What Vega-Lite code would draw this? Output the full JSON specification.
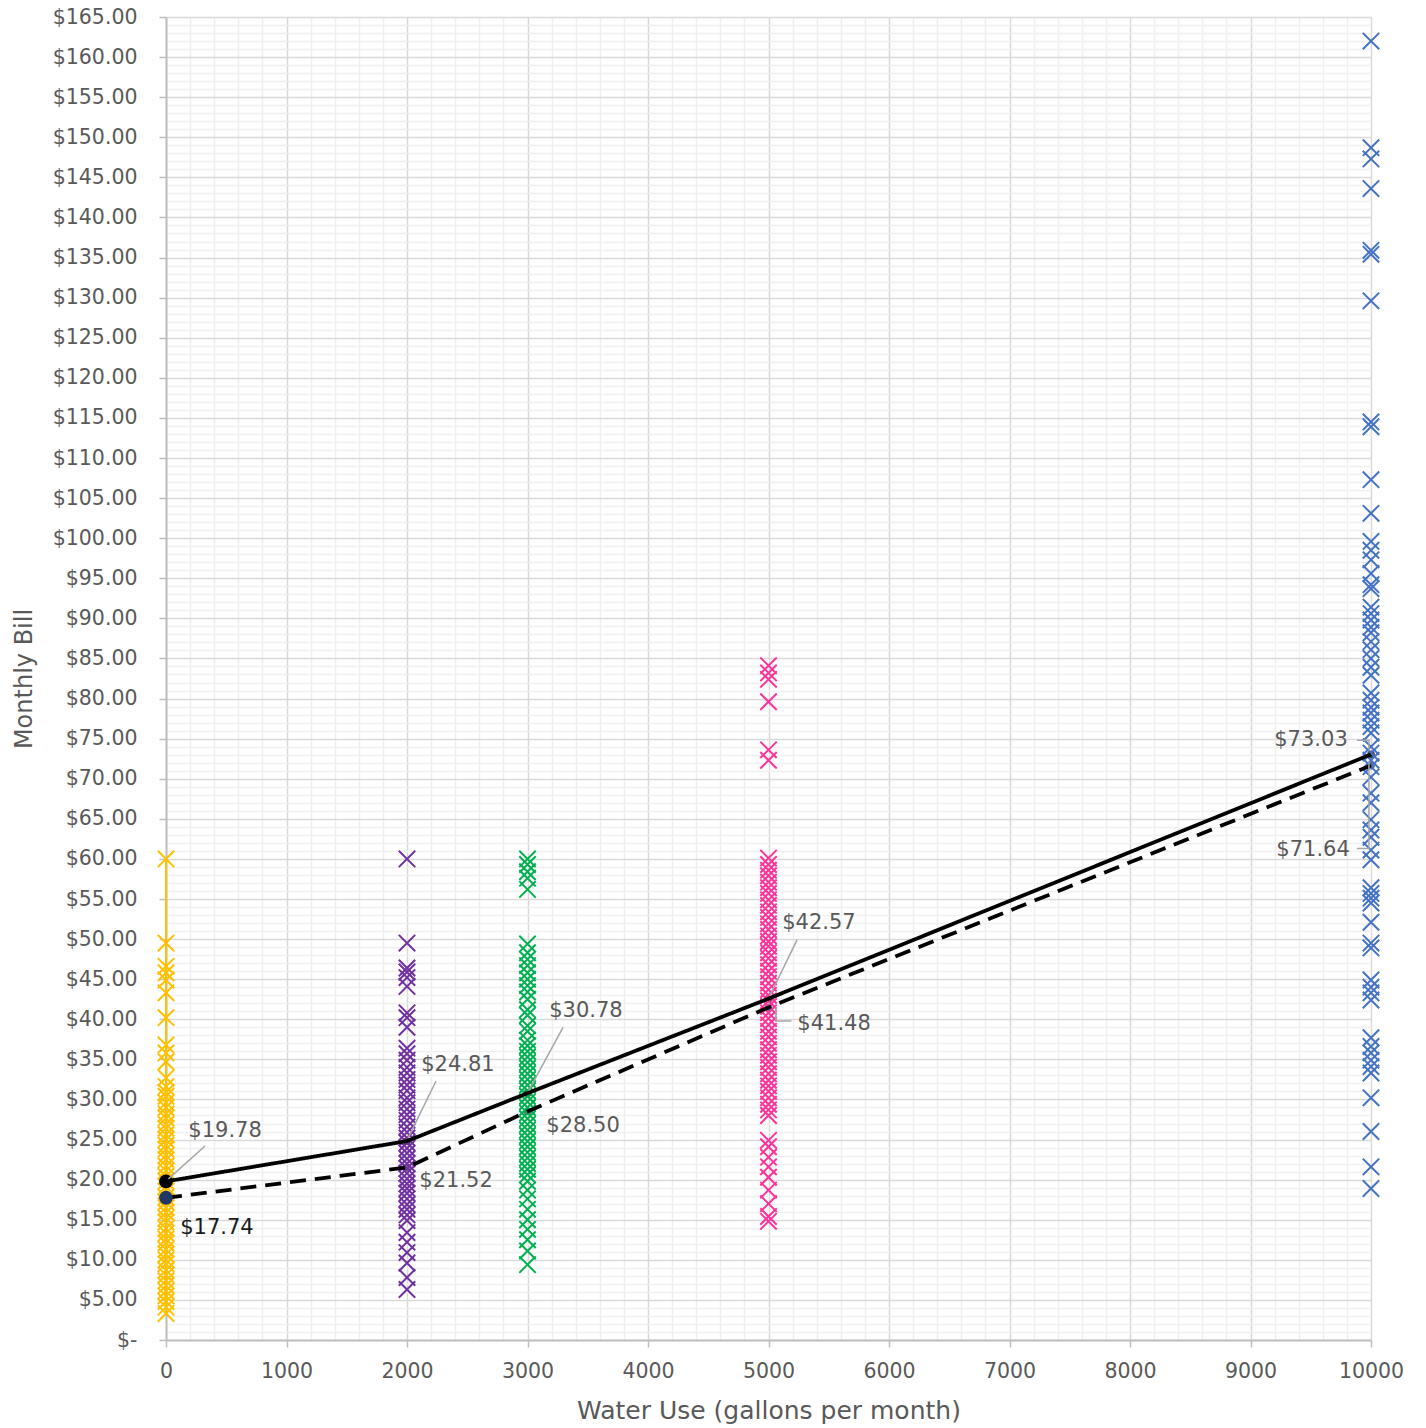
{
  "$schema": "https://vega.github.io/schema/vega-lite/v6.json",
  "width": 1205,
  "height": 1323,
  "autosize": "none",
  "padding": {"left": 166, "top": 17, "right": 55, "bottom": 88},
  "background": "white",
  "config": {
    "view": {"stroke": null},
    "font": "DejaVu Sans",
    "axis": {
      "labelFont": "DejaVu Sans",
      "titleFont": "DejaVu Sans",
      "labelColor": "#595959",
      "titleColor": "#595959",
      "titleFontWeight": "normal",
      "labelFontSize": 20.5,
      "titleFontSize": 24,
      "domainColor": "#BFBFBF",
      "domainWidth": 2,
      "tickColor": "#BFBFBF",
      "tickWidth": 1.5,
      "gridWidth": 1.5,
      "labelOverlap": false,
      "labelFlush": false
    }
  },
  "datasets": {
    "bills": [
      {"use": 0, "bill": 60.0, "group": "g0"}, {"use": 0, "bill": 49.5, "group": "g0"}, {"use": 0, "bill": 46.6, "group": "g0"}, {"use": 0, "bill": 45.8, "group": "g0"}, {"use": 0, "bill": 44.9, "group": "g0"}, {"use": 0, "bill": 43.3, "group": "g0"}, {"use": 0, "bill": 40.2, "group": "g0"}, {"use": 0, "bill": 36.8, "group": "g0"}, {"use": 0, "bill": 35.8, "group": "g0"}, {"use": 0, "bill": 34.7, "group": "g0"}, {"use": 0, "bill": 32.7, "group": "g0"}, {"use": 0, "bill": 31.6, "group": "g0"}, {"use": 0, "bill": 30.9, "group": "g0"}, {"use": 0, "bill": 30.4, "group": "g0"}, {"use": 0, "bill": 29.6, "group": "g0"}, {"use": 0, "bill": 29.0, "group": "g0"}, {"use": 0, "bill": 28.2, "group": "g0"}, {"use": 0, "bill": 27.7, "group": "g0"}, {"use": 0, "bill": 26.9, "group": "g0"}, {"use": 0, "bill": 26.4, "group": "g0"}, {"use": 0, "bill": 25.6, "group": "g0"}, {"use": 0, "bill": 25.0, "group": "g0"}, {"use": 0, "bill": 24.3, "group": "g0"}, {"use": 0, "bill": 23.8, "group": "g0"}, {"use": 0, "bill": 23.0, "group": "g0"}, {"use": 0, "bill": 22.5, "group": "g0"}, {"use": 0, "bill": 21.7, "group": "g0"}, {"use": 0, "bill": 21.1, "group": "g0"}, {"use": 0, "bill": 20.4, "group": "g0"}, {"use": 0, "bill": 19.8, "group": "g0"}, {"use": 0, "bill": 19.1, "group": "g0"}, {"use": 0, "bill": 18.6, "group": "g0"}, {"use": 0, "bill": 17.8, "group": "g0"}, {"use": 0, "bill": 17.2, "group": "g0"}, {"use": 0, "bill": 16.5, "group": "g0"}, {"use": 0, "bill": 15.9, "group": "g0"}, {"use": 0, "bill": 15.2, "group": "g0"}, {"use": 0, "bill": 14.7, "group": "g0"}, {"use": 0, "bill": 13.9, "group": "g0"}, {"use": 0, "bill": 13.3, "group": "g0"}, {"use": 0, "bill": 12.6, "group": "g0"}, {"use": 0, "bill": 12.1, "group": "g0"}, {"use": 0, "bill": 11.3, "group": "g0"}, {"use": 0, "bill": 10.7, "group": "g0"}, {"use": 0, "bill": 10.0, "group": "g0"}, {"use": 0, "bill": 9.5, "group": "g0"}, {"use": 0, "bill": 8.7, "group": "g0"}, {"use": 0, "bill": 8.1, "group": "g0"}, {"use": 0, "bill": 7.4, "group": "g0"}, {"use": 0, "bill": 6.8, "group": "g0"}, {"use": 0, "bill": 6.1, "group": "g0"}, {"use": 0, "bill": 5.5, "group": "g0"}, {"use": 0, "bill": 4.8, "group": "g0"}, {"use": 0, "bill": 4.1, "group": "g0"}, {"use": 0, "bill": 3.3, "group": "g0"},

      {"use": 2000, "bill": 60.0, "group": "g2"}, {"use": 2000, "bill": 49.5, "group": "g2"}, {"use": 2000, "bill": 46.4, "group": "g2"}, {"use": 2000, "bill": 45.9, "group": "g2"}, {"use": 2000, "bill": 45.2, "group": "g2"}, {"use": 2000, "bill": 44.1, "group": "g2"}, {"use": 2000, "bill": 40.8, "group": "g2"}, {"use": 2000, "bill": 40.2, "group": "g2"}, {"use": 2000, "bill": 39.0, "group": "g2"}, {"use": 2000, "bill": 36.4, "group": "g2"}, {"use": 2000, "bill": 35.7, "group": "g2"}, {"use": 2000, "bill": 34.9, "group": "g2"}, {"use": 2000, "bill": 34.0, "group": "g2"}, {"use": 2000, "bill": 33.3, "group": "g2"}, {"use": 2000, "bill": 32.5, "group": "g2"}, {"use": 2000, "bill": 31.8, "group": "g2"}, {"use": 2000, "bill": 31.1, "group": "g2"}, {"use": 2000, "bill": 30.2, "group": "g2"}, {"use": 2000, "bill": 29.6, "group": "g2"}, {"use": 2000, "bill": 28.8, "group": "g2"}, {"use": 2000, "bill": 28.1, "group": "g2"}, {"use": 2000, "bill": 27.4, "group": "g2"}, {"use": 2000, "bill": 26.6, "group": "g2"}, {"use": 2000, "bill": 25.9, "group": "g2"}, {"use": 2000, "bill": 25.2, "group": "g2"}, {"use": 2000, "bill": 24.6, "group": "g2"}, {"use": 2000, "bill": 23.9, "group": "g2"}, {"use": 2000, "bill": 23.3, "group": "g2"}, {"use": 2000, "bill": 22.6, "group": "g2"}, {"use": 2000, "bill": 22.0, "group": "g2"}, {"use": 2000, "bill": 21.4, "group": "g2"}, {"use": 2000, "bill": 20.8, "group": "g2"}, {"use": 2000, "bill": 20.1, "group": "g2"}, {"use": 2000, "bill": 19.5, "group": "g2"}, {"use": 2000, "bill": 18.9, "group": "g2"}, {"use": 2000, "bill": 18.3, "group": "g2"}, {"use": 2000, "bill": 17.6, "group": "g2"}, {"use": 2000, "bill": 16.9, "group": "g2"}, {"use": 2000, "bill": 16.3, "group": "g2"}, {"use": 2000, "bill": 15.6, "group": "g2"}, {"use": 2000, "bill": 14.9, "group": "g2"}, {"use": 2000, "bill": 13.4, "group": "g2"}, {"use": 2000, "bill": 12.2, "group": "g2"}, {"use": 2000, "bill": 10.9, "group": "g2"}, {"use": 2000, "bill": 9.6, "group": "g2"}, {"use": 2000, "bill": 7.8, "group": "g2"}, {"use": 2000, "bill": 6.3, "group": "g2"},

      {"use": 3000, "bill": 60.0, "group": "g3"}, {"use": 3000, "bill": 59.3, "group": "g3"}, {"use": 3000, "bill": 58.4, "group": "g3"}, {"use": 3000, "bill": 57.6, "group": "g3"}, {"use": 3000, "bill": 56.2, "group": "g3"}, {"use": 3000, "bill": 49.4, "group": "g3"}, {"use": 3000, "bill": 48.3, "group": "g3"}, {"use": 3000, "bill": 47.5, "group": "g3"}, {"use": 3000, "bill": 46.7, "group": "g3"}, {"use": 3000, "bill": 45.8, "group": "g3"}, {"use": 3000, "bill": 45.0, "group": "g3"}, {"use": 3000, "bill": 44.2, "group": "g3"}, {"use": 3000, "bill": 43.4, "group": "g3"}, {"use": 3000, "bill": 42.5, "group": "g3"}, {"use": 3000, "bill": 41.2, "group": "g3"}, {"use": 3000, "bill": 40.5, "group": "g3"}, {"use": 3000, "bill": 39.2, "group": "g3"}, {"use": 3000, "bill": 38.5, "group": "g3"}, {"use": 3000, "bill": 37.4, "group": "g3"}, {"use": 3000, "bill": 36.7, "group": "g3"}, {"use": 3000, "bill": 36.0, "group": "g3"}, {"use": 3000, "bill": 35.3, "group": "g3"}, {"use": 3000, "bill": 34.6, "group": "g3"}, {"use": 3000, "bill": 33.9, "group": "g3"}, {"use": 3000, "bill": 33.2, "group": "g3"}, {"use": 3000, "bill": 32.5, "group": "g3"}, {"use": 3000, "bill": 31.8, "group": "g3"}, {"use": 3000, "bill": 31.1, "group": "g3"}, {"use": 3000, "bill": 30.4, "group": "g3"}, {"use": 3000, "bill": 29.7, "group": "g3"}, {"use": 3000, "bill": 29.0, "group": "g3"}, {"use": 3000, "bill": 28.3, "group": "g3"}, {"use": 3000, "bill": 27.6, "group": "g3"}, {"use": 3000, "bill": 26.9, "group": "g3"}, {"use": 3000, "bill": 26.2, "group": "g3"}, {"use": 3000, "bill": 25.5, "group": "g3"}, {"use": 3000, "bill": 24.8, "group": "g3"}, {"use": 3000, "bill": 24.1, "group": "g3"}, {"use": 3000, "bill": 23.4, "group": "g3"}, {"use": 3000, "bill": 22.7, "group": "g3"}, {"use": 3000, "bill": 22.0, "group": "g3"}, {"use": 3000, "bill": 21.3, "group": "g3"}, {"use": 3000, "bill": 20.6, "group": "g3"}, {"use": 3000, "bill": 19.8, "group": "g3"}, {"use": 3000, "bill": 18.7, "group": "g3"}, {"use": 3000, "bill": 17.6, "group": "g3"}, {"use": 3000, "bill": 16.3, "group": "g3"}, {"use": 3000, "bill": 15.0, "group": "g3"}, {"use": 3000, "bill": 13.8, "group": "g3"}, {"use": 3000, "bill": 12.5, "group": "g3"}, {"use": 3000, "bill": 11.1, "group": "g3"}, {"use": 3000, "bill": 9.4, "group": "g3"},

      {"use": 5000, "bill": 84.1, "group": "g5"}, {"use": 5000, "bill": 83.2, "group": "g5"}, {"use": 5000, "bill": 82.4, "group": "g5"}, {"use": 5000, "bill": 79.6, "group": "g5"}, {"use": 5000, "bill": 73.6, "group": "g5"}, {"use": 5000, "bill": 72.3, "group": "g5"}, {"use": 5000, "bill": 60.1, "group": "g5"}, {"use": 5000, "bill": 59.3, "group": "g5"}, {"use": 5000, "bill": 58.6, "group": "g5"}, {"use": 5000, "bill": 57.9, "group": "g5"}, {"use": 5000, "bill": 57.1, "group": "g5"}, {"use": 5000, "bill": 56.4, "group": "g5"}, {"use": 5000, "bill": 55.7, "group": "g5"}, {"use": 5000, "bill": 54.9, "group": "g5"}, {"use": 5000, "bill": 54.2, "group": "g5"}, {"use": 5000, "bill": 53.4, "group": "g5"}, {"use": 5000, "bill": 52.7, "group": "g5"}, {"use": 5000, "bill": 51.9, "group": "g5"}, {"use": 5000, "bill": 51.2, "group": "g5"}, {"use": 5000, "bill": 50.4, "group": "g5"}, {"use": 5000, "bill": 49.7, "group": "g5"}, {"use": 5000, "bill": 49.1, "group": "g5"}, {"use": 5000, "bill": 48.3, "group": "g5"}, {"use": 5000, "bill": 47.6, "group": "g5"}, {"use": 5000, "bill": 46.8, "group": "g5"}, {"use": 5000, "bill": 46.0, "group": "g5"}, {"use": 5000, "bill": 45.3, "group": "g5"}, {"use": 5000, "bill": 44.5, "group": "g5"}, {"use": 5000, "bill": 43.7, "group": "g5"}, {"use": 5000, "bill": 43.0, "group": "g5"}, {"use": 5000, "bill": 42.3, "group": "g5"}, {"use": 5000, "bill": 41.6, "group": "g5"}, {"use": 5000, "bill": 40.8, "group": "g5"}, {"use": 5000, "bill": 40.1, "group": "g5"}, {"use": 5000, "bill": 39.3, "group": "g5"}, {"use": 5000, "bill": 38.5, "group": "g5"}, {"use": 5000, "bill": 37.8, "group": "g5"}, {"use": 5000, "bill": 37.0, "group": "g5"}, {"use": 5000, "bill": 36.2, "group": "g5"}, {"use": 5000, "bill": 35.5, "group": "g5"}, {"use": 5000, "bill": 34.7, "group": "g5"}, {"use": 5000, "bill": 34.0, "group": "g5"}, {"use": 5000, "bill": 33.2, "group": "g5"}, {"use": 5000, "bill": 32.4, "group": "g5"}, {"use": 5000, "bill": 31.7, "group": "g5"}, {"use": 5000, "bill": 31.0, "group": "g5"}, {"use": 5000, "bill": 30.2, "group": "g5"}, {"use": 5000, "bill": 29.4, "group": "g5"}, {"use": 5000, "bill": 28.7, "group": "g5"}, {"use": 5000, "bill": 28.0, "group": "g5"}, {"use": 5000, "bill": 24.9, "group": "g5"}, {"use": 5000, "bill": 24.1, "group": "g5"}, {"use": 5000, "bill": 22.8, "group": "g5"}, {"use": 5000, "bill": 21.6, "group": "g5"}, {"use": 5000, "bill": 20.3, "group": "g5"}, {"use": 5000, "bill": 18.7, "group": "g5"}, {"use": 5000, "bill": 17.0, "group": "g5"}, {"use": 5000, "bill": 15.4, "group": "g5"}, {"use": 5000, "bill": 14.8, "group": "g5"},

      {"use": 10000, "bill": 162.0, "group": "g10"}, {"use": 10000, "bill": 148.7, "group": "g10"}, {"use": 10000, "bill": 147.3, "group": "g10"}, {"use": 10000, "bill": 143.6, "group": "g10"}, {"use": 10000, "bill": 135.9, "group": "g10"}, {"use": 10000, "bill": 135.4, "group": "g10"}, {"use": 10000, "bill": 129.6, "group": "g10"}, {"use": 10000, "bill": 114.5, "group": "g10"}, {"use": 10000, "bill": 113.9, "group": "g10"}, {"use": 10000, "bill": 107.3, "group": "g10"}, {"use": 10000, "bill": 103.1, "group": "g10"}, {"use": 10000, "bill": 99.6, "group": "g10"}, {"use": 10000, "bill": 98.5, "group": "g10"}, {"use": 10000, "bill": 97.3, "group": "g10"}, {"use": 10000, "bill": 95.6, "group": "g10"}, {"use": 10000, "bill": 94.2, "group": "g10"}, {"use": 10000, "bill": 93.7, "group": "g10"}, {"use": 10000, "bill": 91.4, "group": "g10"}, {"use": 10000, "bill": 90.6, "group": "g10"}, {"use": 10000, "bill": 89.8, "group": "g10"}, {"use": 10000, "bill": 88.9, "group": "g10"}, {"use": 10000, "bill": 88.2, "group": "g10"}, {"use": 10000, "bill": 87.1, "group": "g10"}, {"use": 10000, "bill": 86.1, "group": "g10"}, {"use": 10000, "bill": 85.0, "group": "g10"}, {"use": 10000, "bill": 83.9, "group": "g10"}, {"use": 10000, "bill": 82.9, "group": "g10"}, {"use": 10000, "bill": 80.7, "group": "g10"}, {"use": 10000, "bill": 79.8, "group": "g10"}, {"use": 10000, "bill": 78.9, "group": "g10"}, {"use": 10000, "bill": 78.2, "group": "g10"}, {"use": 10000, "bill": 77.3, "group": "g10"}, {"use": 10000, "bill": 76.5, "group": "g10"}, {"use": 10000, "bill": 75.7, "group": "g10"}, {"use": 10000, "bill": 74.0, "group": "g10"}, {"use": 10000, "bill": 73.2, "group": "g10"}, {"use": 10000, "bill": 72.3, "group": "g10"}, {"use": 10000, "bill": 71.5, "group": "g10"}, {"use": 10000, "bill": 70.2, "group": "g10"}, {"use": 10000, "bill": 68.2, "group": "g10"}, {"use": 10000, "bill": 67.0, "group": "g10"}, {"use": 10000, "bill": 64.9, "group": "g10"}, {"use": 10000, "bill": 63.6, "group": "g10"}, {"use": 10000, "bill": 62.7, "group": "g10"}, {"use": 10000, "bill": 61.1, "group": "g10"}, {"use": 10000, "bill": 59.9, "group": "g10"}, {"use": 10000, "bill": 56.4, "group": "g10"}, {"use": 10000, "bill": 55.7, "group": "g10"}, {"use": 10000, "bill": 55.1, "group": "g10"}, {"use": 10000, "bill": 54.5, "group": "g10"}, {"use": 10000, "bill": 52.1, "group": "g10"}, {"use": 10000, "bill": 49.5, "group": "g10"}, {"use": 10000, "bill": 48.9, "group": "g10"}, {"use": 10000, "bill": 44.9, "group": "g10"}, {"use": 10000, "bill": 44.0, "group": "g10"}, {"use": 10000, "bill": 43.3, "group": "g10"}, {"use": 10000, "bill": 42.4, "group": "g10"}, {"use": 10000, "bill": 37.7, "group": "g10"}, {"use": 10000, "bill": 36.6, "group": "g10"}, {"use": 10000, "bill": 35.8, "group": "g10"}, {"use": 10000, "bill": 34.9, "group": "g10"}, {"use": 10000, "bill": 34.1, "group": "g10"}, {"use": 10000, "bill": 33.3, "group": "g10"}, {"use": 10000, "bill": 30.2, "group": "g10"}, {"use": 10000, "bill": 26.0, "group": "g10"}, {"use": 10000, "bill": 21.6, "group": "g10"}, {"use": 10000, "bill": 18.9, "group": "g10"}
    ],
    "curves": [
      {"use": 0, "bill": 19.78, "series": "solid"},
      {"use": 2000, "bill": 24.81, "series": "solid"},
      {"use": 3000, "bill": 30.78, "series": "solid"},
      {"use": 5000, "bill": 42.57, "series": "solid"},
      {"use": 10000, "bill": 73.03, "series": "solid"},
      {"use": 0, "bill": 17.74, "series": "dashed"},
      {"use": 2000, "bill": 21.52, "series": "dashed"},
      {"use": 3000, "bill": 28.50, "series": "dashed"},
      {"use": 5000, "bill": 41.48, "series": "dashed"},
      {"use": 10000, "bill": 71.64, "series": "dashed"}
    ],
    "labels": [
      {"text": "$19.78", "lx": 490, "ly": 26.1, "dark": false},
      {"text": "$17.74", "lx": 423, "ly": 14.0, "dark": true},
      {"text": "$24.81", "lx": 2423, "ly": 34.3, "dark": false},
      {"text": "$21.52", "lx": 2407, "ly": 19.8, "dark": false},
      {"text": "$30.78", "lx": 3485, "ly": 41.0, "dark": false},
      {"text": "$28.50", "lx": 3461, "ly": 26.7, "dark": false},
      {"text": "$42.57", "lx": 5419, "ly": 52.0, "dark": false},
      {"text": "$41.48", "lx": 5544, "ly": 39.4, "dark": false},
      {"text": "$73.03", "lx": 9502, "ly": 74.8, "dark": false},
      {"text": "$71.64", "lx": 9519, "ly": 61.1, "dark": false}
    ],
    "leaders": [
      {"id": "a", "k": 1, "use": 324, "bill": 24.2}, {"id": "a", "k": 2, "use": 20, "bill": 20.1},
      {"id": "b", "k": 1, "use": 2241, "bill": 32.3}, {"id": "b", "k": 2, "use": 2010, "bill": 25.2},
      {"id": "c", "k": 1, "use": 3295, "bill": 39.0}, {"id": "c", "k": 2, "use": 3010, "bill": 31.1},
      {"id": "d", "k": 1, "use": 5237, "bill": 49.9}, {"id": "d", "k": 2, "use": 5010, "bill": 42.9},
      {"id": "e", "k": 1, "use": 5190, "bill": 39.8}, {"id": "e", "k": 2, "use": 5062, "bill": 39.8}, {"id": "e", "k": 3, "use": 5062, "bill": 41.5},
      {"id": "f", "k": 1, "use": 9884, "bill": 74.8}, {"id": "f", "k": 2, "use": 9983, "bill": 74.8}, {"id": "f", "k": 3, "use": 9983, "bill": 73.5},
      {"id": "g", "k": 1, "use": 9884, "bill": 61.3}, {"id": "g", "k": 2, "use": 9983, "bill": 61.3}, {"id": "g", "k": 3, "use": 9983, "bill": 72.2}
    ]
  },
  "layer": [
    {
      "data": {"name": "bills"},
      "transform": [{"filter": "datum.group == 'g0'"}],
      "mark": {"type": "line", "color": "#FFC000", "strokeWidth": 2},
      "encoding": {
        "x": {
          "field": "use", "type": "quantitative",
          "scale": {"domain": [0, 10000], "nice": false},
          "axis": {
            "title": "Water Use (gallons per month)",
            "titleFontSize": 25,
            "titlePadding": 17,
            "tickCount": 50,
            "tickSize": 7,
            "labelPadding": 14,
            "labelExpr": "datum.value % 1000 === 0 ? format(datum.value, 'd') : ''",
            "grid": true,
            "gridColor": {"condition": {"test": "datum.value % 1000 === 0", "value": "#D9D9D9"}, "value": "#F0F0F0"},
            "tickOpacity": {"condition": {"test": "datum.value % 1000 === 0", "value": 1}, "value": 0}
          }
        },
        "y": {
          "field": "bill", "type": "quantitative",
          "scale": {"domain": [0, 165], "nice": false},
          "axis": {
            "title": "Monthly Bill",
            "titlePadding": 16,
            "tickCount": 165,
            "tickSize": 7,
            "labelPadding": 22,
            "labelExpr": "datum.value % 5 === 0 ? (datum.value === 0 ? '$-\u00a0\u00a0' : '$' + format(datum.value, '.2f')) : ''",
            "grid": true,
            "gridColor": {"condition": {"test": "datum.value % 5 === 0", "value": "#D9D9D9"}, "value": "#F0F0F0"},
            "tickOpacity": {"condition": {"test": "datum.value % 5 === 0", "value": 1}, "value": 0}
          }
        },
        "order": {"field": "bill", "type": "quantitative"}
      }
    },
    {
      "data": {"name": "curves"},
      "transform": [{"filter": "datum.use > 0"}],
      "mark": {"type": "point", "shape": "circle", "filled": true, "size": 60},
      "encoding": {
        "x": {"field": "use", "type": "quantitative"},
        "y": {"field": "bill", "type": "quantitative"},
        "color": {"field": "series", "type": "nominal", "scale": {"domain": ["solid", "dashed"], "range": ["#000000", "#203864"]}, "legend": null}
      }
    },
    {
      "data": {"name": "bills"},
      "mark": {"type": "point", "shape": "M-1,-1L1,1M-1,1L1,-1", "filled": false, "strokeWidth": 2, "size": 270, "opacity": 1},
      "encoding": {
        "x": {"field": "use", "type": "quantitative"},
        "y": {"field": "bill", "type": "quantitative"},
        "stroke": {
          "field": "group", "type": "nominal",
          "scale": {"domain": ["g0", "g2", "g3", "g5", "g10"], "range": ["#FFC000", "#7030A0", "#00B050", "#FF3399", "#4472C4"]},
          "legend": null
        }
      }
    },
    {
      "data": {"name": "curves"},
      "mark": {"type": "line", "color": "#000000", "strokeWidth": 3.8},
      "encoding": {
        "x": {"field": "use", "type": "quantitative"},
        "y": {"field": "bill", "type": "quantitative"},
        "detail": {"field": "series", "type": "nominal"},
        "strokeDash": {"field": "series", "type": "nominal", "scale": {"domain": ["solid", "dashed"], "range": [[1, 0], [16, 9]]}, "legend": null}
      }
    },
    {
      "data": {"name": "curves"},
      "transform": [{"filter": "datum.use == 0"}],
      "mark": {"type": "point", "shape": "circle", "filled": true, "size": 190, "opacity": 1},
      "encoding": {
        "x": {"field": "use", "type": "quantitative"},
        "y": {"field": "bill", "type": "quantitative"},
        "color": {"field": "series", "type": "nominal", "scale": {"domain": ["solid", "dashed"], "range": ["#000000", "#203864"]}, "legend": null}
      }
    },
    {
      "data": {"name": "leaders"},
      "mark": {"type": "line", "color": "#A6A6A6", "strokeWidth": 1.5},
      "encoding": {
        "x": {"field": "use", "type": "quantitative"},
        "y": {"field": "bill", "type": "quantitative"},
        "detail": {"field": "id", "type": "nominal"},
        "order": {"field": "k", "type": "quantitative"}
      }
    },
    {
      "data": {"name": "labels"},
      "mark": {"type": "text", "font": "DejaVu Sans", "fontSize": 21, "align": "center", "baseline": "middle"},
      "encoding": {
        "x": {"field": "lx", "type": "quantitative"},
        "y": {"field": "ly", "type": "quantitative"},
        "text": {"field": "text", "type": "nominal"},
        "color": {"condition": {"test": "datum.dark", "value": "#1A1A1A"}, "value": "#595959"}
      }
    }
  ]
}
